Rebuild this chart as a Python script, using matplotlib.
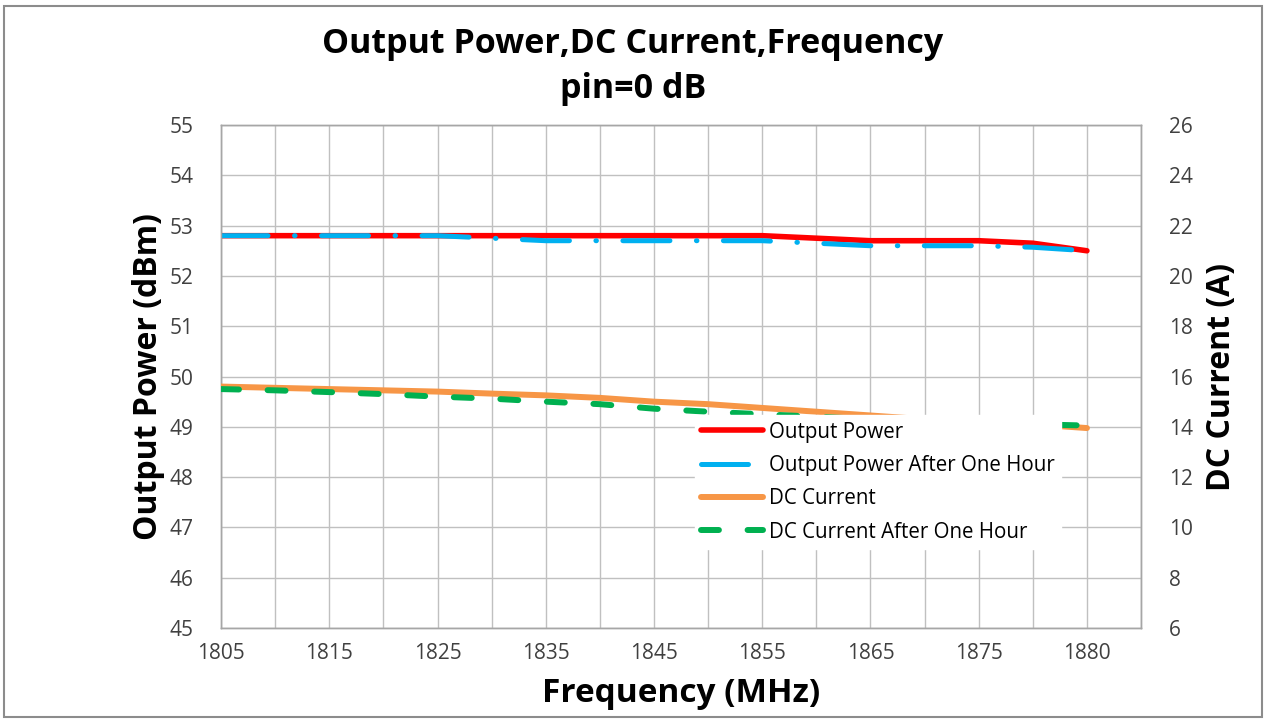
import matplotlib
matplotlib.use("Agg")
import matplotlib.pyplot as plt
from matplotlib.patches import Rectangle

# ---- data ----
freq_labels = ["1805", "1810", "1815", "1820", "1825", "1830", "1835", "1840", "1845",
               "1850", "1855", "1860", "1865", "1870", "1875", "1878", "1880"]
output_power = [52.8, 52.8, 52.8, 52.8, 52.8, 52.8, 52.8, 52.8, 52.8,
                52.8, 52.8, 52.75, 52.7, 52.7, 52.7, 52.65, 52.5]
output_power_1h = [52.8, 52.8, 52.8, 52.8, 52.8, 52.75, 52.7, 52.7, 52.7,
                   52.7, 52.7, 52.65, 52.6, 52.6, 52.6, 52.57, 52.5]
dc_current = [15.6, 15.55, 15.5, 15.45, 15.4, 15.32, 15.25, 15.15, 15.0,
              14.9, 14.75, 14.6, 14.45, 14.3, 14.2, 14.1, 13.95]
dc_current_1h = [15.5, 15.45, 15.38, 15.3, 15.2, 15.12, 15.0, 14.9, 14.72,
                 14.6, 14.5, 14.4, 14.3, 14.2, 14.15, 14.1, 14.05]
shown_labels = ["1805", "1815", "1825", "1835", "1845", "1855", "1865", "1875", "1880"]
left_ticks = [45, 46, 47, 48, 49, 50, 51, 52, 53, 54, 55]
right_ticks = [6, 8, 10, 12, 14, 16, 18, 20, 22, 24, 26]

FONT = "Open Sans"
plt.rcParams["font.family"] = [FONT, "DejaVu Sans"]

fig = plt.figure(figsize=(12.66, 7.19), dpi=100)
fig.patch.set_facecolor("white")
fig.add_artist(Rectangle((0.003, 0.003), 0.994, 0.988, transform=fig.transFigure,
                         fill=False, edgecolor="#8c8c8c", linewidth=1.5))

ax = fig.add_axes([0.1746, 0.1266, 0.9013 - 0.1746, 0.8261 - 0.1266])
ax2 = ax.twinx()

x = list(range(len(freq_labels)))

l1, = ax.plot(x, output_power, color="#ff0000", lw=4.0, solid_capstyle="round",
              label="Output Power", zorder=3)
l2, = ax.plot(x, output_power_1h, color="#00b0f0", lw=3.6,
              linestyle=(0, (9.4, 5.3, 0.1, 5.3)), dash_capstyle="round",
              label="Output Power After One Hour", zorder=4)
l3, = ax2.plot(x, dc_current, color="#f79646", lw=4.3, solid_capstyle="round",
               label="DC Current", zorder=3)
l4, = ax2.plot(x, dc_current_1h, color="#00b050", lw=4.3,
               linestyle=(0, (3.0, 4.8)), dash_capstyle="round",
               label="DC Current After One Hour", zorder=4)

ax.set_xlim(0, len(freq_labels))
ax.set_ylim(45, 55)
ax2.set_ylim(6, 26)
ax.set_yticks(left_ticks)
ax2.set_yticks(right_ticks)

label_pos = [freq_labels.index(s) for s in shown_labels]
ax.set_xticks(label_pos)
ax.set_xticklabels(shown_labels)
ax.set_xticks(range(len(freq_labels) + 1), minor=True)

ax.grid(True, which="both", axis="x", color="#c0c0c0", lw=1)
ax.grid(True, which="major", axis="y", color="#c0c0c0", lw=1)
ax.set_axisbelow(True)

for a in (ax, ax2):
    for s in a.spines.values():
        s.set_color("#a6a6a6")
        s.set_linewidth(1)
    a.tick_params(which="both", length=0, labelsize=15, colors="#404040")
ax.tick_params(axis="x", pad=11)
ax.tick_params(axis="y", pad=20)
ax2.tick_params(axis="y", pad=20)

ax.set_xlabel("Frequency (MHz)", fontsize=24, fontweight="bold")
ax.set_ylabel("Output Power (dBm)", fontsize=23, fontweight="bold")
ax2.set_ylabel("DC Current (A)", fontsize=23, fontweight="bold")
ax.xaxis.set_label_coords(0.5, -0.098)
ax.yaxis.set_label_coords(-0.061, 0.5)
ax2.yaxis.set_label_coords(1.0696, 0.5)

fig.text(0.5, 0.926, "Output Power,DC Current,Frequency", ha="center", va="baseline",
         fontsize=24.5, fontweight="bold")
fig.text(0.5, 0.864, "pin=0 dB", ha="center", va="baseline",
         fontsize=24.5, fontweight="bold")

leg = ax2.legend(handles=[l1, l2, l3, l4], loc="upper left",
                 bbox_to_anchor=(0.504, 0.443), frameon=True, fontsize=14.8,
                 handlelength=3.0, handletextpad=0.3, labelspacing=0.6,
                 borderpad=0.3, fancybox=False)
leg.get_frame().set_edgecolor("white")
leg.get_frame().set_facecolor("white")
leg.get_frame().set_alpha(1)
leg.set_zorder(10)

fig.savefig("out.png", dpi=100, facecolor="white")
